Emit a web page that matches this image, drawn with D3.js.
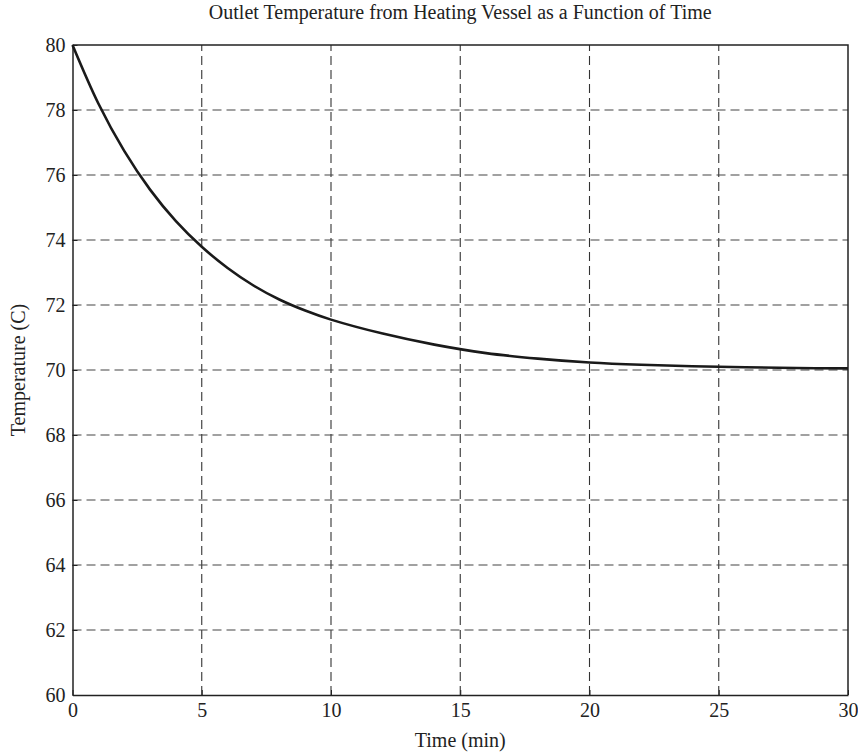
<!DOCTYPE html>
<html>
<head>
<meta charset="utf-8">
<script src="https://cdn.jsdelivr.net/npm/d3@7"></script>
<style>
  body { margin: 0; background: #fff; }
  text { font-family: "Liberation Serif", "DejaVu Serif", serif; fill: #222; }
</style>
</head>
<body>
<div id="chart"></div>
<script>
// values
const timeMin = [0, 1, 2, 3, 4, 5, 6, 7, 8, 9, 10, 12, 14, 16, 18, 20, 22, 25, 28, 30];
const tempC = [80, 78.2, 76.74, 75.55, 74.58, 73.79, 73.14, 72.6, 72.17, 71.83, 71.55,
  71.12, 70.78, 70.52, 70.35, 70.23, 70.16, 70.1, 70.06, 70.05];
const xTicks = [0, 5, 10, 15, 20, 25, 30];
const yTicks = [60, 62, 64, 66, 68, 70, 72, 74, 76, 78, 80];

const width = 858, height = 754;
const margin = {top: 45, right: 10, bottom: 59, left: 72.5};

const svg = d3.select("#chart").append("svg")
  .attr("width", width)
  .attr("height", height);

const x = d3.scaleLinear().domain([0, 30]).range([margin.left, width - margin.right]);
const y = d3.scaleLinear().domain([60, 80]).range([height - margin.bottom, margin.top]);

// dashed grid
svg.append("g")
  .selectAll("line")
  .data(xTicks.slice(1, -1))
  .join("line")
  .attr("x1", d => x(d)).attr("x2", d => x(d))
  .attr("y1", y(60)).attr("y2", y(80))
  .attr("stroke", "#333").attr("stroke-width", 1.1)
  .attr("stroke-dasharray", "9,5");

svg.append("g")
  .selectAll("line")
  .data(yTicks.slice(1, -1))
  .join("line")
  .attr("x1", x(0)).attr("x2", x(30))
  .attr("y1", d => y(d)).attr("y2", d => y(d))
  .attr("stroke", "#444").attr("stroke-width", 1.1)
  .attr("stroke-dasharray", "9,5");

// axes
const xAxis = svg.append("g")
  .attr("transform", `translate(0,${y(60)})`)
  .call(d3.axisBottom(x).tickValues(xTicks).tickSize(-5).tickPadding(8).tickSizeOuter(0));
const yAxis = svg.append("g")
  .attr("transform", `translate(${x(0)},0)`)
  .call(d3.axisLeft(y).tickValues(yTicks).tickSize(-5).tickPadding(7).tickSizeOuter(0));

[xAxis, yAxis].forEach(g => {
  g.attr("font-size", null).attr("font-family", null);
  g.select(".domain").attr("stroke", "#222").attr("stroke-width", 1.5);
  g.selectAll(".tick line").attr("stroke", "#222");
  g.selectAll(".tick text").style("font-size", "20px").attr("fill", "#222");
});

// frame top & right
svg.append("path")
  .attr("d", `M${x(0)},${y(80)}H${x(30)}V${y(60)}`)
  .attr("fill", "none")
  .attr("stroke", "#222")
  .attr("stroke-width", 1.5);

// curve
const line = d3.line()
  .x((d, i) => x(timeMin[i]))
  .y(d => y(d))
  .curve(d3.curveCatmullRom.alpha(0.5));

svg.append("path")
  .datum(tempC)
  .attr("d", line)
  .attr("fill", "none")
  .attr("stroke", "#1a1a1a")
  .attr("stroke-width", 2.6);

// labels
svg.append("text")
  .attr("x", (x(0) + x(30)) / 2)
  .attr("y", 19)
  .attr("text-anchor", "middle")
  .style("font-size", "20px")
  .text("Outlet Temperature from Heating Vessel as a Function of Time");

svg.append("text")
  .attr("x", (x(0) + x(30)) / 2)
  .attr("y", 747)
  .attr("text-anchor", "middle")
  .style("font-size", "20px")
  .text("Time (min)");

svg.append("text")
  .attr("transform", `translate(25,${(y(60) + y(80)) / 2}) rotate(-90)`)
  .attr("text-anchor", "middle")
  .style("font-size", "20px")
  .text("Temperature (C)");
</script>
</body>
</html>
